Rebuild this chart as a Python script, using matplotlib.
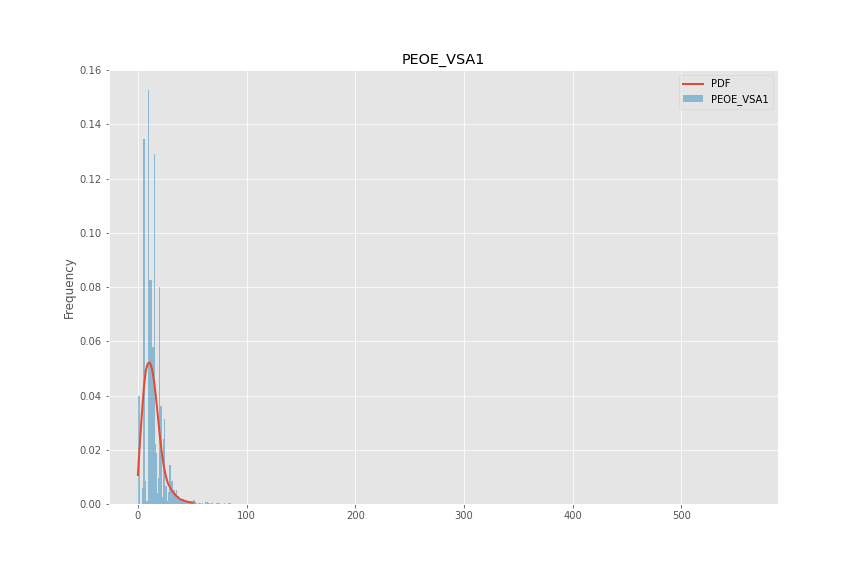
import matplotlib
matplotlib.use("Agg")
import matplotlib.pyplot as plt

plt.style.use("ggplot")

title = "PEOE_VSA1"
series_label = "PEOE_VSA1"
pdf_label = "PDF"
y_label = "Frequency"

# histogram bins: left edge (data units) and density height
bin_left = [0.0, 0.92, 3.68, 4.60, 5.52, 6.45, 7.37, 8.29, 9.21, 10.13, 11.05, 11.97,
            12.89, 13.81, 14.73, 15.65, 16.57, 17.50, 18.42, 19.34, 20.26, 21.18,
            22.10, 23.02, 23.94, 24.86, 25.78, 26.70, 27.62, 28.54, 29.47, 30.39,
            31.31, 32.23, 33.15, 34.07, 34.99, 35.91, 36.83, 37.75, 38.67, 39.59,
            40.52, 41.44, 42.36, 43.28, 44.20, 45.12, 46.04, 46.96, 47.88, 48.80,
            49.72, 50.64, 51.56, 52.49, 53.41, 55.25, 56.17, 57.09, 58.93, 61.69,
            62.61, 63.54, 64.46, 65.38, 67.22, 68.14, 71.82, 72.74, 73.66, 74.58,
            79.19, 82.87, 83.79, 84.71]
density = [0.040, 0.040, 0.006, 0.1346, 0.1346, 0.0085, 0.0012, 0.0012, 0.1526, 0.0826,
           0.0826, 0.0826, 0.058, 0.058, 0.129, 0.022, 0.0187, 0.004, 0.0097, 0.080,
           0.0362, 0.0362, 0.0025, 0.024, 0.0313, 0.0068, 0.0068, 0.001, 0.0045, 0.0144,
           0.0144, 0.0086, 0.0086, 0.005, 0.005, 0.004, 0.005, 0.003, 0.003, 0.0015,
           0.0015, 0.002, 0.002, 0.002, 0.0015, 0.001, 0.0012, 0.0008, 0.001, 0.0008,
           0.001, 0.0005, 0.0008, 0.0015, 0.0015, 0.0008, 0.0004, 0.0005, 0.0004, 0.0005,
           0.0004, 0.0007, 0.0007, 0.0007, 0.0004, 0.0004, 0.0004, 0.0004, 0.0004, 0.0004,
           0.0004, 0.0004, 0.0003, 0.0003, 0.0003, 0.0003]
bin_width = 0.921

# fitted PDF curve points
pdf_x = [0.0, 1.82, 3.68, 5.55, 7.36, 9.18, 11.09, 12.91, 14.72, 16.54, 18.45, 20.27,
         22.08, 23.9, 25.81, 27.63, 31.26, 34.99, 38.72, 43.26, 46.89, 50.92]
pdf_y = [0.0107, 0.0224, 0.0334, 0.0432, 0.0494, 0.0519, 0.0521, 0.0500, 0.0457,
         0.0396, 0.0322, 0.0248, 0.0187, 0.0138, 0.0101, 0.0076, 0.0049, 0.0031,
         0.0018, 0.0011, 0.0007, 0.0005]

fig = plt.figure(figsize=(12, 8), dpi=72)
ax = fig.add_subplot(111)
fig.subplots_adjust(left=0.126, right=0.9, top=0.878, bottom=0.125)

ax.plot(pdf_x, pdf_y, lw=2, color="#E24A33", label=pdf_label)
ax.bar(bin_left, density, width=bin_width, align="edge", color="#348ABD",
       alpha=0.5, linewidth=0, label=series_label)

ax.set_xlim(-26.7, 588.4)
ax.set_ylim(0, 0.16)
ax.set_yticks([0.00, 0.02, 0.04, 0.06, 0.08, 0.10, 0.12, 0.14, 0.16])
ax.set_yticklabels([f"{v:.2f}" for v in ax.get_yticks()])
ax.set_xticks([0, 100, 200, 300, 400, 500])
ax.set_title(title)
ax.set_ylabel(y_label)
ax.legend(loc="upper right")

fig.savefig("out.png", dpi=72)
